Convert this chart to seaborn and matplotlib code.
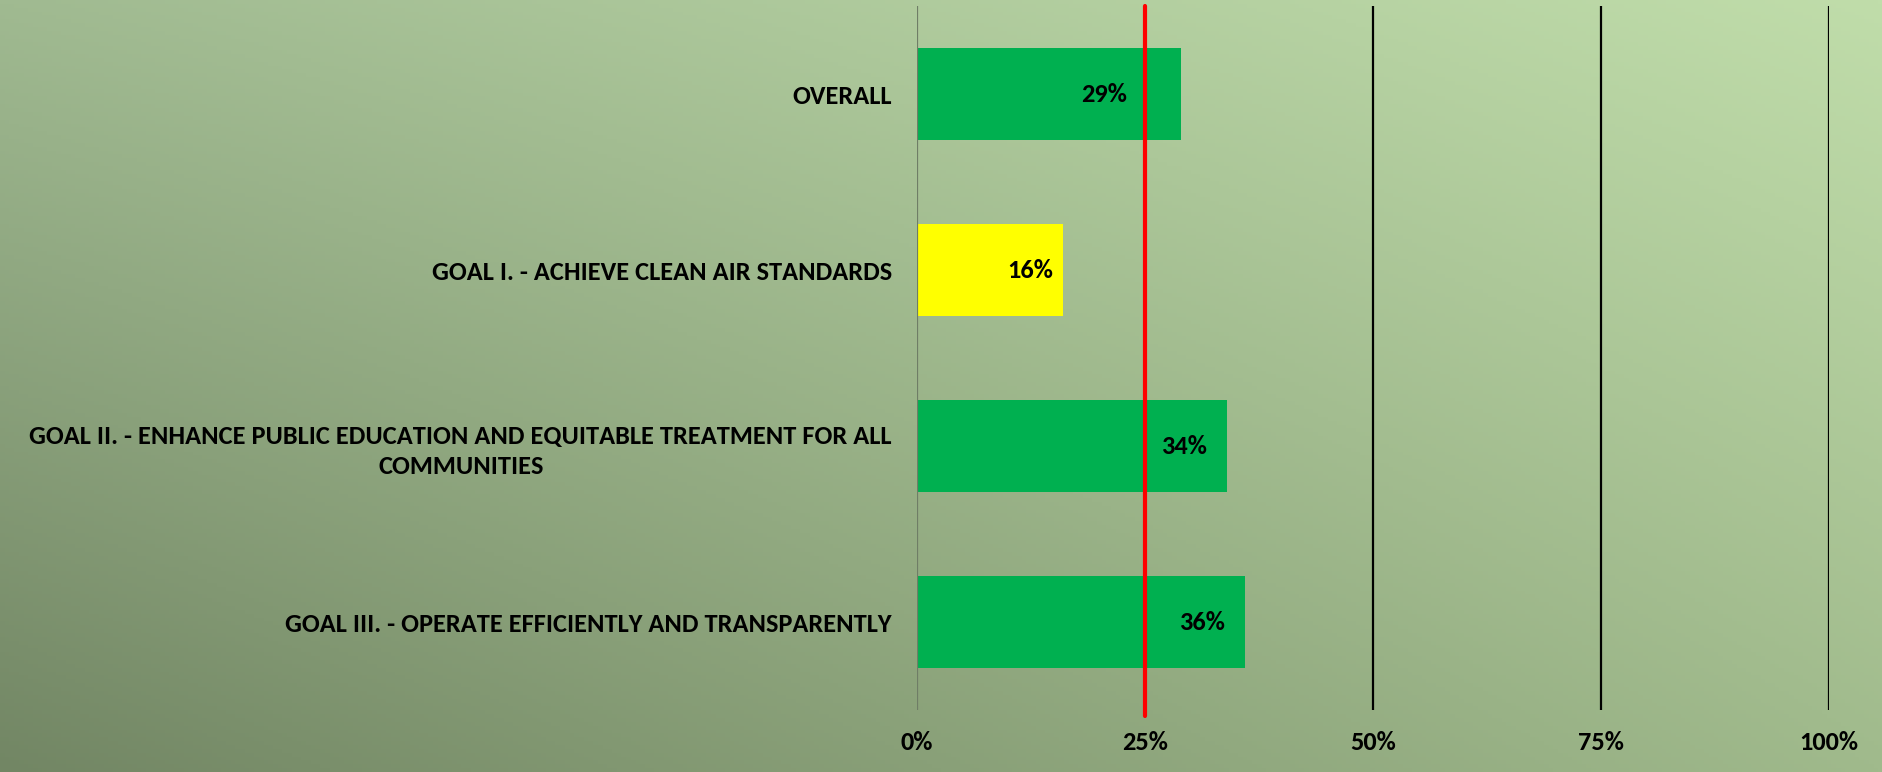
import numpy as np
import matplotlib
matplotlib.use("Agg")
import matplotlib.pyplot as plt
import seaborn as sns

# data
categories = [
    "OVERALL",
    "GOAL I. - ACHIEVE CLEAN AIR STANDARDS",
    "GOAL II. - ENHANCE PUBLIC EDUCATION AND EQUITABLE TREATMENT FOR ALL\nCOMMUNITIES",
    "GOAL III. - OPERATE EFFICIENTLY AND TRANSPARENTLY",
]
values = [0.29, 0.16, 0.34, 0.36]
bar_colors = ["#00b050", "#ffff00", "#00b050", "#00b050"]
label_pad = [0.060, 0.011, 0.022, 0.022]  # how far each label sits in from the bar end
target = 0.25
xticks = [0, 0.25, 0.5, 0.75, 1.0]
xtick_labels = ["0%", "25%", "50%", "75%", "100%"]

sns.set_style("white")
plt.rcParams["font.family"] = ["Carlito", "DejaVu Sans"]
plt.rcParams["font.weight"] = "bold"
plt.rcParams["text.color"] = "black"
plt.rcParams["xtick.color"] = "black"
plt.rcParams["ytick.color"] = "black"

fig = plt.figure(figsize=(18.83, 7.72), dpi=100)

# gradient background: dark green bottom-left -> light green top-right
bg = fig.add_axes([0, 0, 1, 1], zorder=-10)
bg.axis("off")
gx, gy = np.meshgrid(np.linspace(0, 1, 400), np.linspace(0, 1, 200))
tl = np.array([160, 186, 145]) / 255
tr = np.array([192, 221, 170]) / 255
bl = np.array([114, 134, 100]) / 255
br = np.array([160, 186, 140]) / 255
img = ((1 - gx)[..., None] * (1 - gy)[..., None] * tl + gx[..., None] * (1 - gy)[..., None] * tr
       + (1 - gx)[..., None] * gy[..., None] * bl + gx[..., None] * gy[..., None] * br)
bg.imshow(img, aspect="auto", extent=[0, 1, 0, 1], origin="upper")
bg.set_xlim(0, 1)
bg.set_ylim(0, 1)

ax = fig.add_axes([917 / 1883, 62 / 772, 912 / 1883, 704 / 772])
ax.patch.set_alpha(0)

sns.barplot(x=values, y=categories, hue=categories, palette=bar_colors, orient="h",
            width=0.52, ax=ax, legend=False, saturation=1, linewidth=0, zorder=3)

ax.set_xlim(0, 1)
ax.set_ylim(3.5, -0.5)

for x in xticks[2:]:
    ax.axvline(x, color="black", lw=1.6, zorder=1)
ax.axvline(0, color="#6f7d66", lw=1.6, zorder=4)
ax.axvline(target, ymin=-0.009, ymax=1, color="#ff0000", lw=3, zorder=5, clip_on=False)

for i, (v, p) in enumerate(zip(values, label_pad)):
    ax.text(v - p, i, f"{v:.0%}", ha="right", va="center", fontsize=19,
            fontweight="bold", color="black", zorder=6)

ax.set_xticks(xticks)
ax.set_xticklabels(xtick_labels, fontsize=19, fontweight="bold", color="black")
ax.set_yticks(range(len(categories)))
ax.set_yticklabels(categories, fontsize=19, fontweight="bold", color="black",
                   multialignment="center", linespacing=1.35)
ax.tick_params(axis="x", length=0, pad=15)
ax.tick_params(axis="y", length=0, pad=18)
ax.set_xlabel("")
ax.set_ylabel("")
for s in ax.spines.values():
    s.set_visible(False)

fig.savefig("out.png", dpi=100)
